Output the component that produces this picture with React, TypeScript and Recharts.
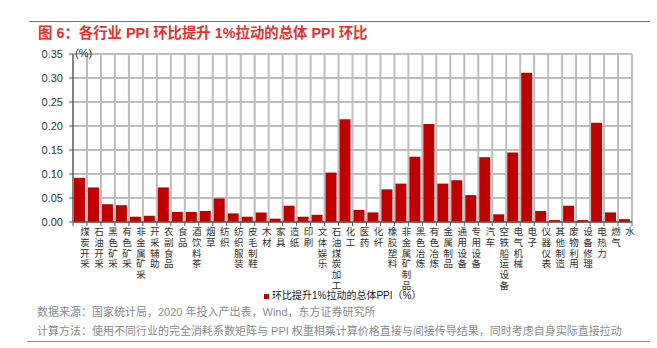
import { Bar, BarChart, CartesianGrid, XAxis, YAxis } from 'recharts'

const industries = [
  '煤炭开采', '石油开采', '黑色矿采', '有色矿采', '非金属矿采', '开采辅助', '农副食品', '食品',
  '酒饮料茶', '烟草', '纺织', '纺织服装', '皮毛制鞋', '木材', '家具', '造纸', '印刷', '文体娱乐',
  '石油煤炭加工', '化工', '医药', '化纤', '橡胶塑料', '非金属矿制品', '黑色冶炼', '有色冶炼',
  '金属制品', '通用设备', '专用设备', '汽车', '空铁船运设备', '电气机械', '电子', '仪器仪表',
  '其他制造', '废物利用', '设备修理', '电热力', '燃气', '水',
]

// 环比提升1%拉动的总体PPI（%）
const ppiPull = [
  0.092, 0.072, 0.037, 0.035, 0.011, 0.013, 0.072, 0.021,
  0.021, 0.023, 0.049, 0.018, 0.011, 0.020, 0.007, 0.034, 0.011, 0.015,
  0.103, 0.214, 0.025, 0.020, 0.068, 0.080, 0.136, 0.204,
  0.080, 0.087, 0.056, 0.135, 0.016, 0.145, 0.311, 0.023,
  0.004, 0.034, 0.004, 0.207, 0.020, 0.006,
]

const yTicks = [0, 0.05, 0.1, 0.15, 0.2, 0.25, 0.3, 0.35]

const seriesName = '环比提升1%拉动的总体PPI（%）'

const data = industries.map((name, i) => ({ name, value: ppiPull[i] }))

const FONT = '"Liberation Sans", "Noto Sans CJK SC", sans-serif'
const PLOT_LEFT = 73
const PLOT_RIGHT = 632
const BAND = (PLOT_RIGHT - PLOT_LEFT) / industries.length
// vertical grid lines sit on category boundaries, not centres
const boundaries = industries.map((_, i) => PLOT_LEFT + (i + 1) * BAND)

function VerticalTick(props: any) {
  const { x, y, payload, index } = props
  const chars = Array.from(String(payload.value))
  return (
    <g>
      {index === 0 && (
        <line x1={x - BAND / 2} x2={x - BAND / 2} y1={y} y2={y + 4} stroke="#595959" />
      )}
      <line x1={x + BAND / 2} x2={x + BAND / 2} y1={y} y2={y + 4} stroke="#595959" />
      <text x={x + 5} y={y + 13} textAnchor="middle" fontSize={9.5} fill="#333" fontFamily={FONT}>
        {chars.map((c, i) => (
          <tspan key={i} x={x + 5} dy={i === 0 ? 0 : 10.8}>
            {c}
          </tspan>
        ))}
      </text>
    </g>
  )
}

export default function App() {
  return (
    <div
      style={{
        position: 'absolute',
        left: 0,
        top: 0,
        width: 657,
        height: 348,
        background: '#fff',
        fontFamily: FONT,
        overflow: 'hidden',
      }}
    >
      <div style={{ position: 'absolute', left: 29, top: 21, width: 621, height: 1, background: '#e8443a' }} />
      <div
        style={{
          position: 'absolute',
          left: 38,
          top: 23,
          fontSize: 14.4,
          lineHeight: '20px',
          fontWeight: 'bold',
          color: '#e5322d',
          whiteSpace: 'nowrap',
        }}
      >
        图 6：各行业 PPI 环比提升 1%拉动的总体 PPI 环比
      </div>

      <div style={{ position: 'absolute', left: 0, top: 0 }}>
        <BarChart
          width={657}
          height={300}
          data={data}
          margin={{ top: 54, right: 657 - PLOT_RIGHT, left: 0, bottom: 0 }}
        >
          <CartesianGrid stroke="#bdbdbd" strokeWidth={2} verticalPoints={boundaries} />
          <XAxis
            dataKey="name"
            interval={0}
            height={78}
            tickSize={0}
            tickMargin={0}
            tickLine={false}
            axisLine={{ stroke: '#595959', strokeWidth: 1.5 }}
            tick={<VerticalTick />}
          />
          <YAxis
            width={PLOT_LEFT}
            domain={[0, 0.35]}
            ticks={yTicks}
            interval={0}
            tickSize={4}
            tickMargin={6}
            tickFormatter={(v: number) => v.toFixed(2)}
            axisLine={{ stroke: '#595959', strokeWidth: 1.5 }}
            tickLine={{ stroke: '#595959' }}
            tick={{ fontSize: 11, fill: '#333', fontFamily: FONT }}
          />
          <Bar dataKey="value" name={seriesName} fill="#c00000" barSize={11} isAnimationActive={false} />
        </BarChart>
      </div>

      <div style={{ position: 'absolute', left: 75, top: 45, fontSize: 11, lineHeight: '16px', color: '#333' }}>(%)</div>

      <div
        style={{
          position: 'absolute',
          left: 264,
          top: 288,
          display: 'flex',
          alignItems: 'center',
          fontSize: 10,
          lineHeight: '16px',
          color: '#222',
          whiteSpace: 'nowrap',
        }}
      >
        <span style={{ display: 'inline-block', width: 5, height: 5, background: '#c00000', marginRight: 3 }} />
        {seriesName}
      </div>

      <div
        style={{
          position: 'absolute',
          left: 37,
          top: 303,
          fontSize: 11,
          lineHeight: '19px',
          color: '#8c8c8c',
          whiteSpace: 'nowrap',
        }}
      >
        <div>数据来源：国家统计局，2020 年投入产出表，Wind，东方证券研究所</div>
        <div>计算方法：使用不同行业的完全消耗系数矩阵与 PPI 权重相乘计算价格直接与间接传导结果，同时考虑自身实际直接拉动</div>
      </div>
      <div style={{ position: 'absolute', left: 27, top: 341, width: 623, height: 1, background: '#ee6a64' }} />
    </div>
  )
}
